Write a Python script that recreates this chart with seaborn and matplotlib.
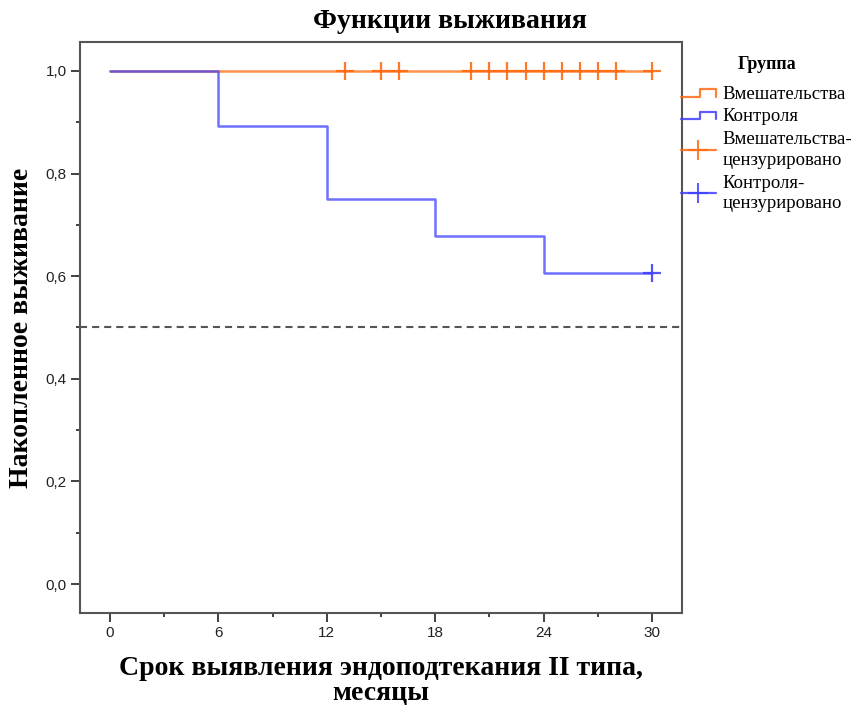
import numpy as np
import pandas as pd
import matplotlib
matplotlib.use("Agg")
import matplotlib.pyplot as plt
import seaborn as sns
from matplotlib.lines import Line2D
from matplotlib.legend_handler import HandlerBase, HandlerLine2D
from matplotlib.ticker import FixedLocator, FuncFormatter

# ---------------- data ----------------
groups = ["Вмешательства", "Контроля"]
interv_times = [0, 30]
interv_surv = [1.0, 1.0]
interv_censored = [13, 15, 16, 20, 21, 22, 23, 24, 25, 26, 27, 28, 30]
control_times = [0, 6, 12, 18, 24, 30]
control_surv = [1.0, 0.893, 0.750, 0.679, 0.607, 0.607]
control_censored = [30]
x_ticks = [0, 6, 12, 18, 24, 30]
y_ticks = [0.0, 0.2, 0.4, 0.6, 0.8, 1.0]
median_line = 0.5

title = "Функции выживания"
xlabel = "Срок выявления эндоподтекания II типа,\nмесяцы"
ylabel = "Накопленное выживание"
legend_title = "Группа"
legend_labels = ["Вмешательства", "Контроля",
                 "Вмешательства-\nцензурировано", "Контроля-\nцензурировано"]

c_orange = "#ff6a10"
c_blue = "#4040ff"
palette = {groups[0]: c_orange, groups[1]: c_blue}

steps = pd.DataFrame({
    "time": interv_times + control_times,
    "surv": interv_surv + control_surv,
    "group": [groups[0]] * len(interv_times) + [groups[1]] * len(control_times),
})


def surv_at(times, survs, t):
    s = survs[0]
    for tt, ss in zip(times, survs):
        if tt <= t:
            s = ss
    return s


cens = pd.DataFrame({
    "time": interv_censored + control_censored,
    "surv": [surv_at(interv_times, interv_surv, t) for t in interv_censored]
            + [surv_at(control_times, control_surv, t) for t in control_censored],
    "group": [groups[0]] * len(interv_censored) + [groups[1]] * len(control_censored),
})

# ---------------- figure ----------------
sns.set_style("white")
plt.rcParams["font.family"] = ["Liberation Serif", "DejaVu Serif"]
plt.rcParams["text.color"] = "black"
plt.rcParams["axes.labelcolor"] = "black"

W, H = 854, 707
AX_L, AX_R, AX_T, AX_B = 80, 682, 42, 613
fig = plt.figure(figsize=(W / 100, H / 100), dpi=100)
ax = fig.add_axes([AX_L / W, 1 - AX_B / H, (AX_R - AX_L) / W, (AX_B - AX_T) / H])

sns.lineplot(data=steps, x="time", y="surv", hue="group", palette=palette,
             drawstyle="steps-post", estimator=None, sort=False, legend=False,
             lw=1.8, alpha=0.75, ax=ax)
sns.scatterplot(data=cens, x="time", y="surv", hue="group", palette=palette,
                marker="+", s=170, linewidth=1.6, alpha=0.9, legend=False, ax=ax)

ax.axhline(median_line, color="#555555", lw=1.5, ls=(0, (3.4, 2.4)), zorder=1)

ax.set_xlim(-1.66, 31.66)
ax.set_ylim(-0.0565, 1.0565)
ax.xaxis.set_major_locator(FixedLocator(x_ticks))
ax.xaxis.set_minor_locator(FixedLocator([t + 3 for t in x_ticks[:-1]]))
ax.yaxis.set_major_locator(FixedLocator(y_ticks))
ax.yaxis.set_minor_locator(FixedLocator([t + 0.1 for t in y_ticks[:-1]]))
ax.yaxis.set_major_formatter(FuncFormatter(lambda v, p: f"{v:.1f}".replace(".", ",")))
ax.tick_params(which="both", direction="out", color="#333333", width=1.3,
               labelcolor="#222222", bottom=True, left=True)
ax.tick_params(which="major", length=6.5, pad=3)
ax.tick_params(which="minor", length=3)
tick_font = ["Liberation Sans Narrow", "Liberation Sans", "DejaVu Sans"]
for lab in ax.get_xticklabels() + ax.get_yticklabels():
    lab.set_family(tick_font)
    lab.set_fontsize(11)
for sp in ax.spines.values():
    sp.set_color("#555555")
    sp.set_linewidth(1.5)

ax.set_xlabel(xlabel, fontsize=20, fontweight="bold", linespacing=1.0)
ax.set_ylabel(ylabel, fontsize=20, fontweight="bold")
ax.xaxis.set_label_coords(0.5, -(656 - AX_B) / (AX_B - AX_T))
ax.xaxis.label.set_va("top")
ax.yaxis.set_label_coords(-(AX_L - 22) / (AX_R - AX_L), 0.5)
ax.yaxis.label.set_va("center")

fig.text(450 / W, 1 - 22 / H, title, ha="center", va="center",
         fontsize=20, fontweight="bold")


# ---------------- legend ----------------
class StepHandler(HandlerBase):
    def create_artists(self, legend, orig_handle, xdescent, ydescent,
                       width, height, fontsize, trans):
        xs = np.array([0, 0.55, 0.55, 1.0, 1.0]) * width - xdescent
        ys = np.array([0.15, 0.15, 0.75, 0.75, 0.15]) * height - ydescent
        ln = Line2D(xs, ys, color=orig_handle.get_color(), lw=1.6, alpha=0.85)
        ln.set_transform(trans)
        return [ln]


h1 = Line2D([], [], color=c_orange)
h2 = Line2D([], [], color=c_blue)
h3 = Line2D([], [], color=c_orange, marker="+", markersize=14, mew=1.5, lw=1.6, alpha=0.85)
h4 = Line2D([], [], color=c_blue, marker="+", markersize=14, mew=1.5, lw=1.6, alpha=0.85)
leg = fig.legend([h1, h2, h3, h4], legend_labels,
                 handler_map={h1: StepHandler(), h2: StepHandler(),
                              h3: HandlerLine2D(numpoints=1), h4: HandlerLine2D(numpoints=1)},
                 loc="upper left", bbox_to_anchor=(681 / W, 1 - 56 / H),
                 frameon=False, fontsize=13.5, title=legend_title,
                 title_fontproperties={"weight": "bold", "size": 13},
                 handlelength=1.85, handletextpad=0.37, borderpad=0, borderaxespad=0,
                 labelspacing=0.3)
for t in leg.get_texts():
    t.set_linespacing(1.3)
leg._legend_box.sep = 9

fig.savefig("out.png", dpi=100)
